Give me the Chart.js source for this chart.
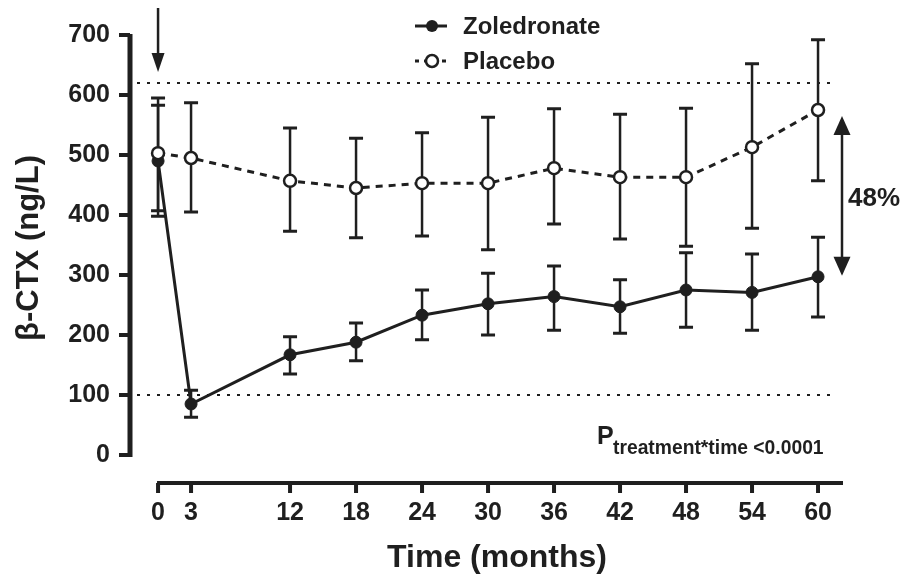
<!DOCTYPE html>
<html>
<head>
<meta charset="utf-8">
<title>beta-CTX over time</title>
<script src="https://cdn.jsdelivr.net/npm/chart.js@4.4.1/dist/chart.umd.min.js"></script>
<style>
    html, body { margin: 0; padding: 0; background: #fff; }
    #wrap { width: 907px; height: 574px; }
</style>
</head>
<body>
<div id="wrap"><canvas id="ctxChart" width="907" height="574"></canvas></div>
<script>
"use strict";

// months since first infusion
const months = [0, 3, 12, 18, 24, 30, 36, 42, 48, 54, 60]

// beta-CTX means and error bar ends (ng/L)
const zoledronate = [490, 85, 167, 188, 233, 252, 264, 247, 275, 271, 297]
const zoledronateHigh = [583, 108, 197, 220, 275, 303, 315, 292, 337, 335, 363]
const zoledronateLow = [407, 63, 135, 157, 192, 200, 208, 203, 213, 208, 230]

const placebo = [503, 495, 457, 445, 453, 453, 478, 463, 463, 513, 575]
const placeboHigh = [595, 587, 545, 528, 537, 563, 577, 568, 578, 652, 692]
const placeboLow = [398, 405, 373, 362, 365, 342, 385, 360, 348, 378, 457]

const yTicks = [0, 100, 200, 300, 400, 500, 600, 700]
const xTicks = months
const referenceLines = [100, 620]
const diffLabel = '48%'
const yTitle = 'β-CTX (ng/L)'
const xTitle = 'Time (months)'

const INK = '#1f1f1f'
const FONT = '"Liberation Sans", Arial, Helvetica, sans-serif'

Chart.defaults.font.family = FONT
Chart.defaults.color = INK

const toPoints = values => values.map((y, i) => ({ x: months[i], y }))

// vertical error bars with caps, drawn below the points
const errorBars = {
    id: 'errorBars',
    beforeDatasetsDraw(chart) {
        const { ctx, scales: { x, y } } = chart
        ctx.save()
        ctx.strokeStyle = INK
        chart.data.datasets.forEach(ds => {
            ds.data.forEach((p, i) => {
                const px = x.getPixelForValue(p.x)
                const top = y.getPixelForValue(ds.errHigh[i])
                const bottom = y.getPixelForValue(ds.errLow[i])
                ctx.lineWidth = 2.5
                ctx.beginPath()
                ctx.moveTo(px, top)
                ctx.lineTo(px, bottom)
                ctx.stroke()
                ctx.lineWidth = 3
                ctx.beginPath()
                ctx.moveTo(px - 7, top)
                ctx.lineTo(px + 7, top)
                ctx.moveTo(px - 7, bottom)
                ctx.lineTo(px + 7, bottom)
                ctx.stroke()
            })
        })
        ctx.restore()
    }
}

const arrowHead = (ctx, x, tipY, dir, len, half) => {
    ctx.beginPath()
    ctx.moveTo(x, tipY)
    ctx.lineTo(x - half, tipY - dir * len)
    ctx.lineTo(x + half, tipY - dir * len)
    ctx.closePath()
    ctx.fill()
}

// axes, dotted normal range, arrows, legend and annotation text
const decorations = {
    id: 'decorations',
    beforeDatasetsDraw(chart) {
        const { ctx, chartArea, scales: { y } } = chart
        ctx.save()
        ctx.strokeStyle = INK
        ctx.lineWidth = 2
        ctx.setLineDash([3, 7])
        referenceLines.forEach(v => {
            const py = Math.round(y.getPixelForValue(v))
            ctx.beginPath()
            ctx.moveTo(chartArea.left + 7, py)
            ctx.lineTo(chartArea.right - 6, py)
            ctx.stroke()
        })
        ctx.restore()
    },
    afterDraw(chart) {
        const { ctx, chartArea, scales: { x, y } } = chart
        ctx.save()
        ctx.strokeStyle = INK
        ctx.fillStyle = INK

        // y axis
        const ax = chartArea.left
        ctx.lineWidth = 5
        ctx.beginPath()
        ctx.moveTo(ax, y.getPixelForValue(0) + 2)
        ctx.lineTo(ax, y.getPixelForValue(700) - 1)
        ctx.stroke()
        ctx.lineWidth = 4
        yTicks.forEach(v => {
            const py = y.getPixelForValue(v)
            ctx.beginPath()
            ctx.moveTo(ax - 11, py)
            ctx.lineTo(ax, py)
            ctx.stroke()
        })

        // x axis, detached below the plot
        const ay = chartArea.bottom
        ctx.lineWidth = 4
        ctx.beginPath()
        ctx.moveTo(x.getPixelForValue(0) - 1, ay)
        ctx.lineTo(chartArea.right, ay)
        ctx.stroke()
        xTicks.forEach(v => {
            const px = x.getPixelForValue(v)
            ctx.beginPath()
            ctx.moveTo(px, ay)
            ctx.lineTo(px, ay + 10)
            ctx.stroke()
        })

        // axis titles
        ctx.font = `bold 32px ${FONT}`
        ctx.textAlign = 'center'
        ctx.textBaseline = 'alphabetic'
        ctx.fillText(xTitle, 497, 567)
        ctx.save()
        ctx.translate(29, 248)
        ctx.rotate(-Math.PI / 2)
        ctx.textBaseline = 'middle'
        ctx.font = `bold 31px ${FONT}`
        ctx.fillText(yTitle, 0, 0)
        ctx.restore()

        // infusion arrow at month 0
        const x0 = x.getPixelForValue(0)
        ctx.lineWidth = 2.5
        ctx.beginPath()
        ctx.moveTo(x0, 8)
        ctx.lineTo(x0, 58)
        ctx.stroke()
        arrowHead(ctx, x0, 72, 1, 19, 6.5)

        // difference arrow at the last visit
        const last = months.length - 1
        const dx = chartArea.right - 1
        const tipTop = y.getPixelForValue(placebo[last]) + 6
        const tipBottom = y.getPixelForValue(zoledronate[last]) - 1
        ctx.beginPath()
        ctx.moveTo(dx, tipTop + 10)
        ctx.lineTo(dx, tipBottom - 10)
        ctx.stroke()
        arrowHead(ctx, dx, tipTop, -1, 19, 8.5)
        arrowHead(ctx, dx, tipBottom, 1, 19, 8.5)

        ctx.textBaseline = 'middle'
        ctx.textAlign = 'left'
        ctx.font = `bold 26px ${FONT}`
        ctx.fillText(diffLabel, dx + 6, (tipTop + tipBottom) / 2 + 3)

        // interaction p-value
        ctx.textBaseline = 'alphabetic'
        ctx.font = `bold 25px ${FONT}`
        ctx.fillText('P', 597, 444)
        ctx.font = `bold 19.3px ${FONT}`
        ctx.fillText('treatment*time <0.0001', 613, 454)

        // legend
        ctx.textBaseline = 'middle'
        ctx.font = `bold 24px ${FONT}`
        ctx.lineWidth = 3
        ctx.beginPath()
        ctx.moveTo(415, 26)
        ctx.lineTo(447, 26)
        ctx.stroke()
        ctx.beginPath()
        ctx.arc(432, 26, 6, 0, Math.PI * 2)
        ctx.fill()
        ctx.fillText('Zoledronate', 463, 27)

        ctx.setLineDash([4, 5])
        ctx.beginPath()
        ctx.moveTo(415, 61)
        ctx.lineTo(448, 61)
        ctx.stroke()
        ctx.setLineDash([])
        ctx.lineWidth = 2.5
        ctx.fillStyle = '#fff'
        ctx.beginPath()
        ctx.arc(432, 61, 6, 0, Math.PI * 2)
        ctx.fill()
        ctx.stroke()
        ctx.fillStyle = INK
        ctx.fillText('Placebo', 463, 62)

        ctx.restore()
    }
}

new Chart('ctxChart', {
    type: 'line',
    data: {
        datasets: [
            {
                label: 'Placebo',
                data: toPoints(placebo),
                errHigh: placeboHigh,
                errLow: placeboLow,
                borderColor: INK,
                borderWidth: 3,
                borderDash: [7, 6],
                pointRadius: 6,
                pointBackgroundColor: '#fff',
                pointBorderColor: INK,
                pointBorderWidth: 2.5,
                tension: 0
            },
            {
                label: 'Zoledronate',
                data: toPoints(zoledronate),
                errHigh: zoledronateHigh,
                errLow: zoledronateLow,
                borderColor: INK,
                borderWidth: 3,
                pointRadius: 6,
                pointBackgroundColor: INK,
                pointBorderColor: INK,
                pointBorderWidth: 1,
                tension: 0
            }
        ]
    },
    options: {
        responsive: false,
        animation: false,
        devicePixelRatio: 1,
        layout: { padding: { left: 0, top: 34, right: 64, bottom: 0 } },
        plugins: {
            legend: { display: false },
            tooltip: { enabled: false }
        },
        scales: {
            x: {
                type: 'linear',
                min: -2.55,
                max: 62.27,
                afterBuildTicks: scale => { scale.ticks = xTicks.map(value => ({ value })) },
                afterFit: scale => { scale.height = 91 },
                grid: { display: false, drawTicks: false },
                border: { display: false },
                ticks: { padding: 15, font: { size: 25, weight: 'bold' }, color: INK }
            },
            y: {
                min: -46.67,
                max: 700,
                afterBuildTicks: scale => { scale.ticks = yTicks.map(value => ({ value })) },
                afterFit: scale => { scale.width = 130 },
                grid: { display: false, drawTicks: false },
                border: { display: false },
                ticks: { padding: 20, font: { size: 25, weight: 'bold' }, color: INK }
            }
        }
    },
    plugins: [errorBars, decorations]
})
</script>
</body>
</html>
